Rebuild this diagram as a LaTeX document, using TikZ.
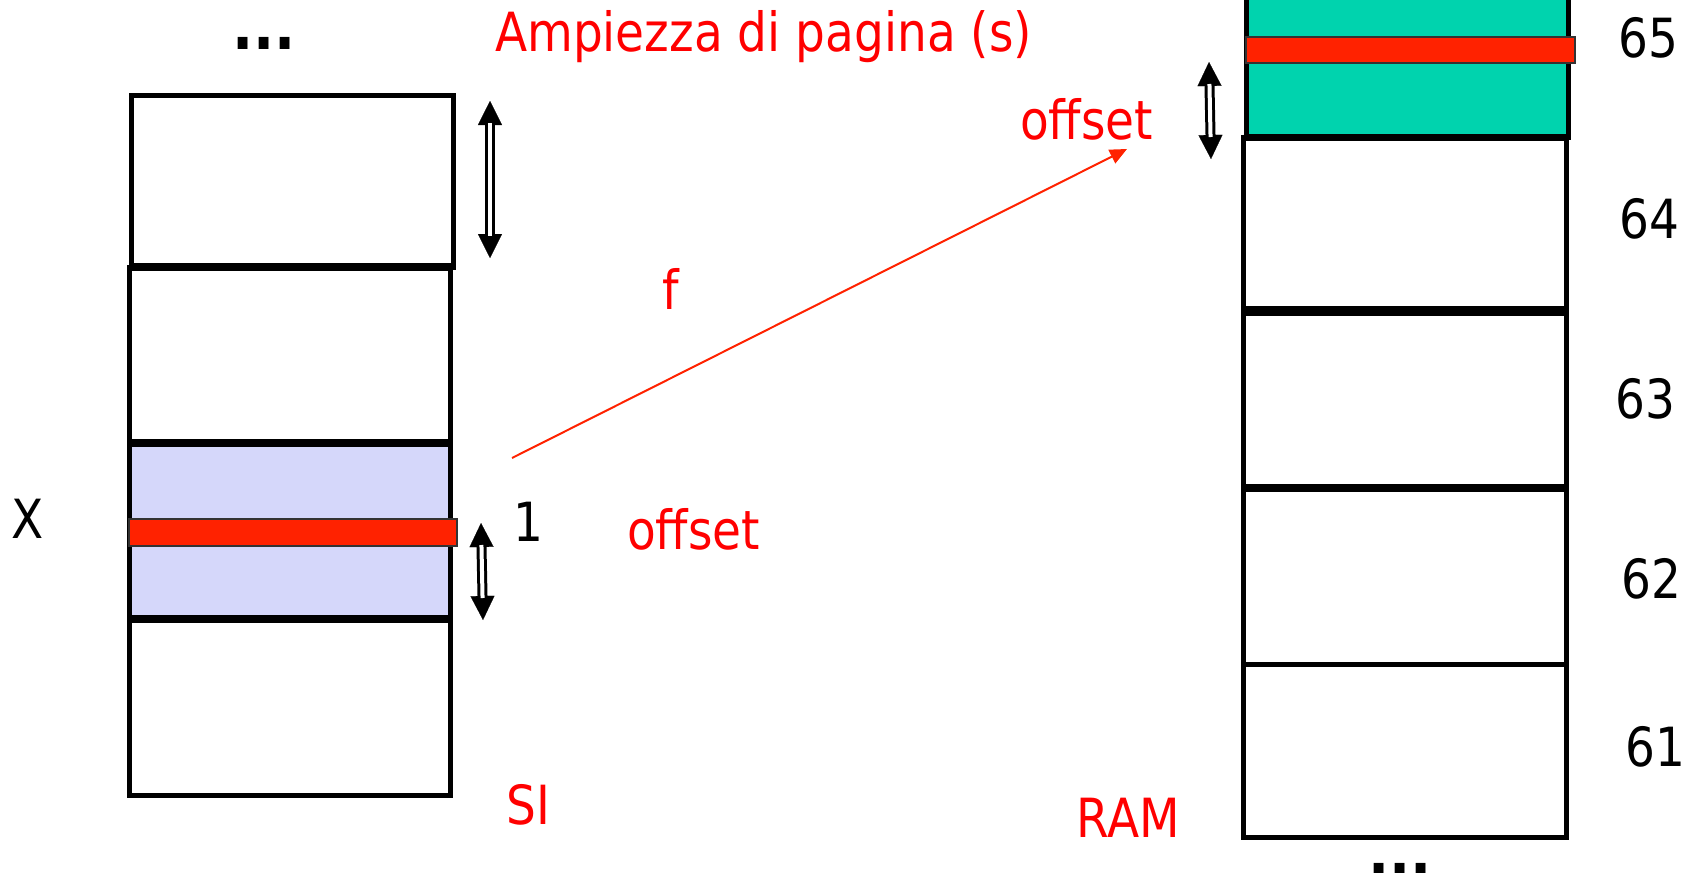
\documentclass[tikz,border=0pt]{standalone}
\usepackage{fontspec}
\setmainfont{DejaVu Sans}[FakeStretch=0.87]
\usetikzlibrary{arrows.meta}
\definecolor{txtred}{RGB}{255,0,0}
\definecolor{barred}{RGB}{255,34,0}
\definecolor{pagegreen}{RGB}{0,211,174}
\definecolor{pageblue}{RGB}{213,215,250}
\begin{document}
\begin{tikzpicture}[x=1pt,y=-1pt,
  pagebox/.style={draw=black, line width=5pt, rectangle, inner sep=0pt, outer sep=0pt},
  sepline/.style={line width=8pt},
  bar/.style={draw=black!80, line width=1.2pt, fill=barred, rectangle, inner sep=0pt, outer sep=0pt},
  lbl/.style={anchor=base, inner sep=0pt, font=\fontsize{54pt}{64pt}\selectfont},
  redlbl/.style={lbl, text=txtred},
  dots/.style={anchor=base, inner sep=0pt, font=\fontsize{64pt}{72pt}\selectfont\bfseries},
  shaft/.style={double=white, double distance=4pt, line width=3pt, shorten >=22pt, shorten <=22pt},
  tips/.style={line width=0.2pt, {Triangle[length=24pt,width=24pt]}-{Triangle[length=24pt,width=24pt]}},
  maparrow/.style={draw=barred, line width=2pt, -{Triangle[length=17pt,width=15pt]}}
]
\useasboundingbox (0,0) rectangle (1698,873);
% left column (SI)
\node[pagebox, minimum width=322pt, minimum height=172pt] (s1) at (292,181) {};
\node[pagebox, minimum width=321pt, minimum height=176pt] (s2) at (289.5,355) {};
\node[pagebox, fill=pageblue, minimum width=321pt, minimum height=176pt] (s3) at (289.5,531) {};
\node[pagebox, minimum width=321pt, minimum height=176pt] (s4) at (289.5,707) {};
\draw[sepline] (s1.south west) -- (s1.south east);
\draw[sepline] (s3.north west) -- (s3.north east);
\draw[sepline] (s3.south west) -- (s3.south east);
\node[bar, minimum width=328pt, minimum height=27pt] (sbar) at (293,532.5) {};
% right column (RAM)
\node[pagebox, fill=pagegreen, minimum width=322pt, minimum height=200pt] (r65) at (1407,37) {};
\node[pagebox, minimum width=322.5pt, minimum height=174pt] (r64) at (1404.75,224) {};
\node[pagebox, minimum width=322.5pt, minimum height=177pt] (r63) at (1404.75,399.5) {};
\node[pagebox, minimum width=322.5pt, minimum height=176pt] (r62) at (1404.75,576) {};
\node[pagebox, minimum width=322.5pt, minimum height=173pt] (r61) at (1404.75,750.5) {};
\draw[line width=7pt] (r64.north west) -- (r64.north east);
\draw[line width=10pt] (r64.south west) -- (r64.south east);
\draw[sepline] (r63.south west) -- (r63.south east);
\node[bar, minimum width=329pt, minimum height=26pt] (rbar) at (1410.5,50) {};
% double arrows
\coordinate (a1t) at (490,101);
\coordinate (a1b) at (490,258);
\draw[tips] (a1t) -- (a1b);
\draw[shaft] (a1t) -- (a1b);
\coordinate (a2t) at (481,523);
\coordinate (a2b) at (483,620);
\draw[tips] (a2t) -- (a2b);
\draw[shaft] (a2t) -- (a2b);
\coordinate (a3t) at (1209,62);
\coordinate (a3b) at (1211,159);
\draw[tips] (a3t) -- (a3b);
\draw[shaft] (a3t) -- (a3b);
% mapping arrow f
\coordinate (fstart) at (512,458);
\coordinate (fend) at (1127,149);
\draw[maparrow] (fstart) -- (fend);
% labels
\node[dots] (dtop) at (264,49) {...};
\node[dots] (dbot) at (1400,875) {...};
\node[redlbl] (title) at (763.5,51) {Ampiezza di pagina (s)};
\node[redlbl] (off1) at (1086.5,139) {offset};
\node[redlbl] (flbl) at (671,309) {f};
\node[redlbl] (off2) at (693.5,549) {offset};
\node[redlbl] (si) at (528.5,824) {SI};
\node[redlbl] (ram) at (1128,837) {RAM};
\node[lbl] (xl) at (27.5,538) {X};
\node[lbl] (one) at (528,541) {1};
\node[lbl] (n65) at (1648,57) {65};
\node[lbl] (n64) at (1649,238) {64};
\node[lbl] (n63) at (1645.5,418) {63};
\node[lbl] (n62) at (1651,598) {62};
\node[lbl] (n61) at (1655,766) {61};
\end{tikzpicture}
\end{document}
